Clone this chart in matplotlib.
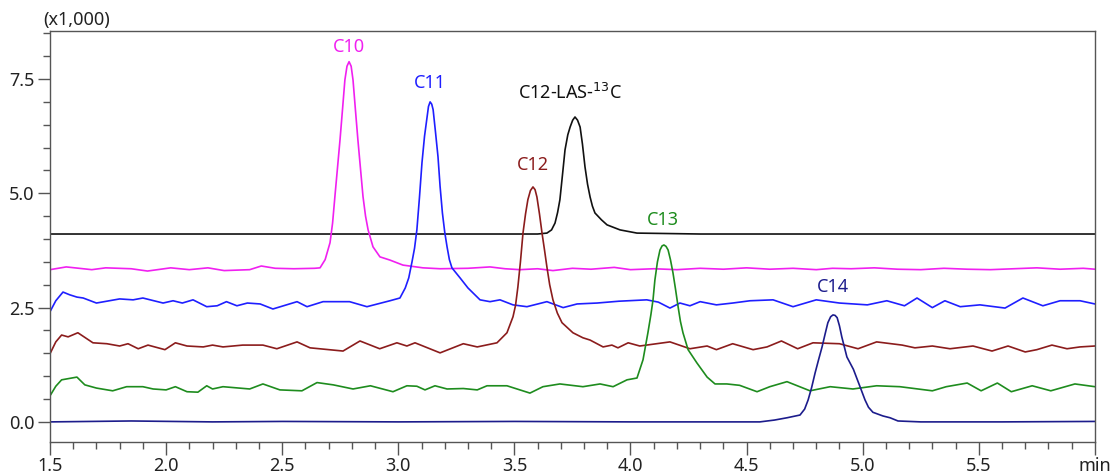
import matplotlib
matplotlib.use("Agg")
from matplotlib import pyplot as plt
from matplotlib.ticker import MultipleLocator

# retention time (min), intensity (x1,000)
c12_las_13c = [(1.5, 4.11), (2.2, 4.11), (2.8, 4.11), (3.3, 4.11), (3.60, 4.11), (3.64, 4.13),
               (3.66, 4.2), (3.675, 4.35), (3.686, 4.58), (3.696, 4.86), (3.707, 5.4),
               (3.718, 5.95), (3.73, 6.28), (3.74, 6.45), (3.751, 6.6), (3.761, 6.67),
               (3.772, 6.6), (3.783, 6.45), (3.793, 6.08), (3.804, 5.58), (3.815, 5.2),
               (3.826, 4.92), (3.836, 4.72), (3.847, 4.57), (3.875, 4.42), (3.899, 4.31),
               (3.955, 4.2), (4.028, 4.13), (4.3, 4.11), (5.0, 4.11), (5.6, 4.11), (6.0, 4.11)]

c10 = [(1.5, 3.33), (1.57, 3.39), (1.68, 3.33), (1.74, 3.37), (1.85, 3.35), (1.92, 3.30),
       (2.02, 3.37), (2.10, 3.33), (2.18, 3.37), (2.25, 3.31), (2.36, 3.33), (2.41, 3.41),
       (2.47, 3.36), (2.55, 3.35), (2.64, 3.36), (2.663, 3.37), (2.685, 3.55), (2.706, 3.92),
       (2.717, 4.35), (2.727, 4.93), (2.738, 5.55), (2.749, 6.17), (2.76, 6.85), (2.77, 7.48),
       (2.779, 7.78), (2.788, 7.88), (2.797, 7.78), (2.805, 7.48), (2.815, 6.85), (2.826, 6.17),
       (2.837, 5.55), (2.848, 4.93), (2.859, 4.5), (2.87, 4.2), (2.891, 3.83), (2.921, 3.61),
       (2.964, 3.54), (3.02, 3.43), (3.106, 3.37), (3.18, 3.35), (3.30, 3.36), (3.395, 3.39),
       (3.46, 3.35), (3.524, 3.33), (3.60, 3.35), (3.666, 3.31), (3.75, 3.36), (3.83, 3.34),
       (3.93, 3.38), (4.0, 3.33), (4.1, 3.35), (4.2, 3.33), (4.3, 3.36), (4.4, 3.34),
       (4.5, 3.37), (4.6, 3.34), (4.7, 3.36), (4.8, 3.33), (4.87, 3.36), (4.95, 3.35),
       (5.05, 3.37), (5.15, 3.34), (5.25, 3.33), (5.35, 3.36), (5.45, 3.34), (5.55, 3.33),
       (5.65, 3.35), (5.75, 3.37), (5.85, 3.34), (5.95, 3.36), (6.0, 3.34)]

c11 = [(1.5, 2.41), (1.525, 2.65), (1.556, 2.84), (1.585, 2.78), (1.616, 2.73), (1.643, 2.71),
       (1.70, 2.60), (1.80, 2.69), (1.858, 2.67), (1.90, 2.71), (1.987, 2.60), (2.03, 2.65),
       (2.07, 2.60), (2.116, 2.67), (2.175, 2.52), (2.22, 2.54), (2.26, 2.63), (2.305, 2.54),
       (2.35, 2.60), (2.405, 2.58), (2.46, 2.47), (2.564, 2.63), (2.607, 2.52), (2.676, 2.63),
       (2.79, 2.63), (2.865, 2.52), (2.964, 2.65), (3.007, 2.71), (3.03, 2.93), (3.045, 3.15),
       (3.059, 3.50), (3.07, 3.8), (3.08, 4.2), (3.091, 4.9), (3.102, 5.67), (3.113, 6.25),
       (3.124, 6.67), (3.13, 6.9), (3.137, 7.0), (3.144, 6.95), (3.15, 6.83), (3.16, 6.35),
       (3.171, 5.8), (3.18, 5.15), (3.19, 4.57), (3.2, 4.15), (3.21, 3.83), (3.22, 3.55),
       (3.231, 3.37), (3.266, 3.15), (3.30, 2.93), (3.352, 2.67), (3.395, 2.63), (3.438, 2.67),
       (3.494, 2.56), (3.554, 2.52), (3.64, 2.63), (3.71, 2.50), (3.77, 2.58), (3.856, 2.60),
       (3.95, 2.64), (4.07, 2.67), (4.12, 2.62), (4.17, 2.49), (4.213, 2.60), (4.256, 2.54),
       (4.30, 2.63), (4.37, 2.56), (4.44, 2.60), (4.515, 2.65), (4.614, 2.67), (4.70, 2.52),
       (4.80, 2.67), (4.90, 2.60), (5.02, 2.56), (5.104, 2.65), (5.18, 2.54), (5.234, 2.71),
       (5.30, 2.50), (5.354, 2.65), (5.42, 2.52), (5.505, 2.56), (5.613, 2.49), (5.69, 2.71),
       (5.776, 2.54), (5.85, 2.65), (5.936, 2.65), (6.0, 2.58)]

c12 = [(1.5, 1.49), (1.525, 1.75), (1.55, 1.90), (1.578, 1.86), (1.62, 1.95), (1.685, 1.73),
       (1.745, 1.71), (1.80, 1.66), (1.836, 1.71), (1.88, 1.60), (1.922, 1.68), (1.995, 1.58),
       (2.04, 1.73), (2.09, 1.66), (2.16, 1.64), (2.20, 1.68), (2.245, 1.64), (2.33, 1.68),
       (2.417, 1.68), (2.477, 1.60), (2.564, 1.75), (2.62, 1.62), (2.762, 1.55), (2.835, 1.77),
       (2.92, 1.60), (2.994, 1.73), (3.037, 1.66), (3.072, 1.73), (3.18, 1.51), (3.28, 1.71),
       (3.34, 1.64), (3.425, 1.73), (3.468, 1.95), (3.494, 2.30), (3.505, 2.55), (3.515, 2.95),
       (3.526, 3.5), (3.537, 4.13), (3.548, 4.55), (3.558, 4.86), (3.569, 5.06), (3.58, 5.14),
       (3.589, 5.08), (3.597, 4.92), (3.608, 4.55), (3.619, 4.13), (3.63, 3.75), (3.64, 3.39),
       (3.652, 3.0), (3.666, 2.67), (3.685, 2.38), (3.705, 2.17), (3.752, 1.95), (3.795, 1.84),
       (3.826, 1.79), (3.882, 1.64), (3.92, 1.68), (3.946, 1.62), (3.99, 1.73), (4.04, 1.66),
       (4.17, 1.75), (4.256, 1.60), (4.33, 1.66), (4.37, 1.58), (4.44, 1.71), (4.528, 1.58),
       (4.588, 1.64), (4.65, 1.77), (4.72, 1.60), (4.786, 1.73), (4.90, 1.71), (4.98, 1.60),
       (5.06, 1.75), (5.17, 1.68), (5.225, 1.62), (5.30, 1.66), (5.376, 1.60), (5.475, 1.66),
       (5.557, 1.55), (5.626, 1.66), (5.70, 1.53), (5.75, 1.58), (5.815, 1.68), (5.88, 1.60),
       (5.936, 1.64), (6.0, 1.66)]

c13 = [(1.5, 0.57), (1.525, 0.78), (1.55, 0.92), (1.616, 0.98), (1.65, 0.81), (1.70, 0.74),
       (1.77, 0.68), (1.83, 0.77), (1.90, 0.77), (1.944, 0.72), (2.0, 0.70), (2.04, 0.77),
       (2.09, 0.66), (2.137, 0.65), (2.175, 0.79), (2.20, 0.72), (2.245, 0.77), (2.36, 0.72),
       (2.417, 0.83), (2.49, 0.70), (2.585, 0.68), (2.65, 0.86), (2.72, 0.81), (2.805, 0.72),
       (2.88, 0.79), (2.977, 0.66), (3.037, 0.79), (3.08, 0.78), (3.115, 0.70), (3.158, 0.79),
       (3.21, 0.72), (3.28, 0.73), (3.34, 0.70), (3.382, 0.79), (3.468, 0.79), (3.567, 0.63),
       (3.623, 0.77), (3.696, 0.83), (3.795, 0.77), (3.869, 0.83), (3.925, 0.77), (3.985, 0.92),
       (4.028, 0.96), (4.054, 1.36), (4.075, 1.95), (4.088, 2.35), (4.097, 2.67), (4.105, 3.1),
       (4.116, 3.5), (4.127, 3.76), (4.136, 3.85), (4.144, 3.87), (4.153, 3.84), (4.162, 3.76),
       (4.172, 3.55), (4.183, 3.26), (4.194, 2.9), (4.205, 2.52), (4.215, 2.2), (4.226, 1.95),
       (4.248, 1.58), (4.286, 1.29), (4.33, 0.98), (4.364, 0.83), (4.415, 0.83), (4.47, 0.80),
       (4.545, 0.66), (4.60, 0.77), (4.674, 0.88), (4.773, 0.68), (4.86, 0.77), (4.958, 0.72),
       (5.06, 0.79), (5.16, 0.77), (5.30, 0.68), (5.36, 0.77), (5.45, 0.85), (5.51, 0.68),
       (5.58, 0.85), (5.64, 0.66), (5.73, 0.79), (5.81, 0.68), (5.914, 0.83), (6.0, 0.77)]

c14 = [(1.5, 0.0), (1.85, 0.02), (2.2, 0.0), (2.5, 0.01), (3.0, 0.0), (3.5, 0.01), (4.0, 0.0),
       (4.3, 0.0), (4.557, 0.0), (4.62, 0.04), (4.674, 0.09), (4.73, 0.15), (4.75, 0.28),
       (4.765, 0.48), (4.78, 0.75), (4.795, 1.07), (4.81, 1.36), (4.825, 1.64), (4.838, 1.92),
       (4.85, 2.17), (4.862, 2.3), (4.872, 2.34), (4.881, 2.33), (4.89, 2.28), (4.9, 2.1),
       (4.91, 1.86), (4.932, 1.42), (4.96, 1.15), (4.99, 0.75), (5.01, 0.48), (5.025, 0.32),
       (5.044, 0.21), (5.087, 0.13), (5.118, 0.09), (5.152, 0.02), (5.25, 0.0), (5.6, 0.0),
       (6.0, 0.01)]

traces = [c12_las_13c, c10, c11, c12, c13, c14]
colors = ["#111111", "#f020f0", "#1f1fff", "#8b1c1c", "#1e8c1e", "#1c1c8c"]

# peak labels: text, retention time, label height
labels = [("C12-LAS-$^{13}$C", 3.74, 7.2), ("C10", 2.788, 8.2), ("C11", 3.137, 7.42),
          ("C12", 3.58, 5.62), ("C13", 4.14, 4.42), ("C14", 4.872, 2.95)]

xtick_vals = [1.5, 2.0, 2.5, 3.0, 3.5, 4.0, 4.5, 5.0, 5.5, 6.0]
xtick_labels = ["1.5", "2.0", "2.5", "3.0", "3.5", "4.0", "4.5", "5.0", "5.5", "min"]
ytick_vals = [0.0, 2.5, 5.0, 7.5]

plt.rcParams["font.family"] = ["Noto Sans", "DejaVu Sans"]

fig = plt.figure(figsize=(11.11, 4.74), dpi=100)
ax = fig.add_axes([0.045, 0.0675, 0.9405, 0.867])

for pts, col in zip(traces, colors):
    t = [p[0] for p in pts]
    v = [p[1] for p in pts]
    ax.plot(t, v, color=col, linewidth=1.2, solid_joinstyle="round")

for (txt, t, v), col in zip(labels, colors):
    ax.text(t, v, txt, color=col, fontsize=13, ha="center", va="center")

ax.set_xlim(1.5, 6.0)
ax.set_ylim(-0.44, 8.55)
ax.set_xticks(xtick_vals)
ax.set_xticklabels(xtick_labels)
ax.set_yticks(ytick_vals)
ax.set_yticklabels([f"{y:.1f}" for y in ytick_vals])
ax.xaxis.set_minor_locator(MultipleLocator(0.1))
ax.yaxis.set_minor_locator(MultipleLocator(0.5))

for s in ax.spines.values():
    s.set_color("#555555")
    s.set_linewidth(1.0)
ax.tick_params(which="major", length=9, width=1.0, color="#555555",
               labelsize=13, labelcolor="#222222", pad=2)
ax.tick_params(which="minor", length=5, width=1.0, color="#555555")

fig.text(0.039, 1 - 20 / 474, "(x1,000)", fontsize=13, color="#222222", va="center")

fig.savefig("out.png", dpi=100)
